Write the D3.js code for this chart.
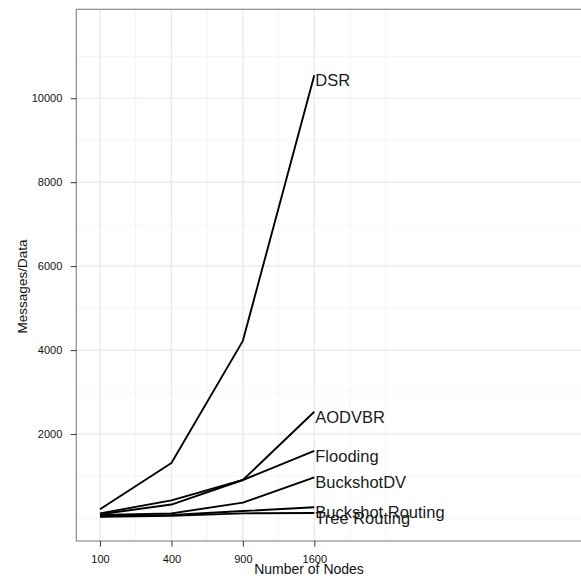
<!DOCTYPE html>
<html>
<head>
<meta charset="utf-8">
<script src="https://cdn.jsdelivr.net/npm/d3@7"></script>
<style>
  html, body { margin: 0; padding: 0; background: #fff; }
  svg { display: block; }
  text { font-family: "Liberation Sans", Arial, sans-serif; }
</style>
</head>
<body>
<svg id="chart" width="581" height="576"></svg>
<script>
// ---- data ----
const nodes = [100, 400, 900, 1600];
const xTickLabels = ["100", "400", "900", "1600"];
const xMinorGrid = [225, 625, 1225, 2025, 2500];
const yTicks = [2000, 4000, 6000, 8000, 10000];
const yMinorGrid = [0, 1000, 3000, 5000, 7000, 9000, 11000];

const seriesNames = ["DSR", "AODVBR", "Flooding", "BuckshotDV", "Buckshot Routing", "Tree Routing"];
const dsr             = [210, 1310, 4220, 10550];
const aodvbr          = [90, 320, 905, 2530];
const flooding        = [110, 420, 905, 1600];
const buckshotDV      = [70, 110, 365, 970];
const buckshotRouting = [40, 70, 165, 255];
const treeRouting     = [30, 50, 110, 120];
const seriesValues = [dsr, aodvbr, flooding, buckshotDV, buckshotRouting, treeRouting];

// ---- layout ----
const panel = { left: 76.3, top: 9.3, right: 600, bottom: 541 };

const svg = d3.select("#chart");

const x = d3.scaleSqrt().domain([44.65, 6003]).range([panel.left, 582]);
const y = d3.scaleLinear().domain([-548, 12119]).range([panel.bottom, panel.top]);

// grid
const grid = svg.append("g");
grid.selectAll("line.ymin").data(yMinorGrid).enter().append("line")
  .attr("x1", panel.left).attr("x2", panel.right)
  .attr("y1", d => y(d)).attr("y2", d => y(d))
  .attr("stroke", "#f4f4f4").attr("stroke-width", 1);
grid.selectAll("line.xmin").data(xMinorGrid).enter().append("line")
  .attr("y1", panel.top).attr("y2", panel.bottom)
  .attr("x1", d => x(d)).attr("x2", d => x(d))
  .attr("stroke", "#f4f4f4").attr("stroke-width", 1);
grid.selectAll("line.ymaj").data(yTicks).enter().append("line")
  .attr("x1", panel.left).attr("x2", panel.right)
  .attr("y1", d => y(d)).attr("y2", d => y(d))
  .attr("stroke", "#e8e8e8").attr("stroke-width", 1.2);
grid.selectAll("line.xmaj").data(nodes).enter().append("line")
  .attr("y1", panel.top).attr("y2", panel.bottom)
  .attr("x1", d => x(d)).attr("x2", d => x(d))
  .attr("stroke", "#e8e8e8").attr("stroke-width", 1.2);

// lines
const line = d3.line().x((d, i) => x(nodes[i])).y(d => y(d));
svg.append("g").selectAll("path").data(seriesValues).enter().append("path")
  .attr("d", d => line(d))
  .attr("fill", "none")
  .attr("stroke", "#000")
  .attr("stroke-width", 1.9)
  .attr("stroke-linejoin", "round");

// series labels
svg.append("g").selectAll("text").data(seriesNames).enter().append("text")
  .attr("x", (d, i) => x(nodes[nodes.length - 1]) + 1)
  .attr("y", (d, i) => y(seriesValues[i][nodes.length - 1]) + 11)
  .attr("font-size", "16.5px")
  .attr("fill", "#1a1a1a")
  .text(d => d);

// panel border
svg.append("rect")
  .attr("x", panel.left).attr("y", panel.top)
  .attr("width", panel.right - panel.left).attr("height", panel.bottom - panel.top)
  .attr("fill", "none").attr("stroke", "#8a8a8a").attr("stroke-width", 1.2);

// axes
const xAxis = d3.axisBottom(x).tickValues(nodes)
  .tickFormat((d, i) => xTickLabels[i]).tickSize(5.6).tickPadding(9).tickSizeOuter(0);
const gx = svg.append("g").attr("transform", `translate(0,${panel.bottom})`).call(xAxis);
gx.select(".domain").remove();
gx.selectAll("line").attr("stroke", "#333");
gx.selectAll("text").attr("font-size", "11px").attr("fill", "#111")
  .attr("font-family", "Liberation Sans, Arial, sans-serif");

const yAxis = d3.axisLeft(y).tickValues(yTicks).tickFormat(d3.format("d"))
  .tickSize(5.6).tickPadding(8.4).tickSizeOuter(0);
const gy = svg.append("g").attr("transform", `translate(${panel.left},0)`).call(yAxis);
gy.select(".domain").remove();
gy.selectAll("line").attr("stroke", "#333");
gy.selectAll("text").attr("font-size", "11px").attr("fill", "#111")
  .attr("font-family", "Liberation Sans, Arial, sans-serif");

// axis titles
svg.append("text")
  .attr("x", 309).attr("y", 573.5)
  .attr("text-anchor", "middle")
  .attr("font-size", "14px").attr("fill", "#111")
  .text("Number of Nodes");

svg.append("text")
  .attr("transform", "translate(26.5,286.5) rotate(-90)")
  .attr("text-anchor", "middle")
  .attr("font-size", "13.5px").attr("fill", "#111")
  .text("Messages/Data");
</script>
</body>
</html>
